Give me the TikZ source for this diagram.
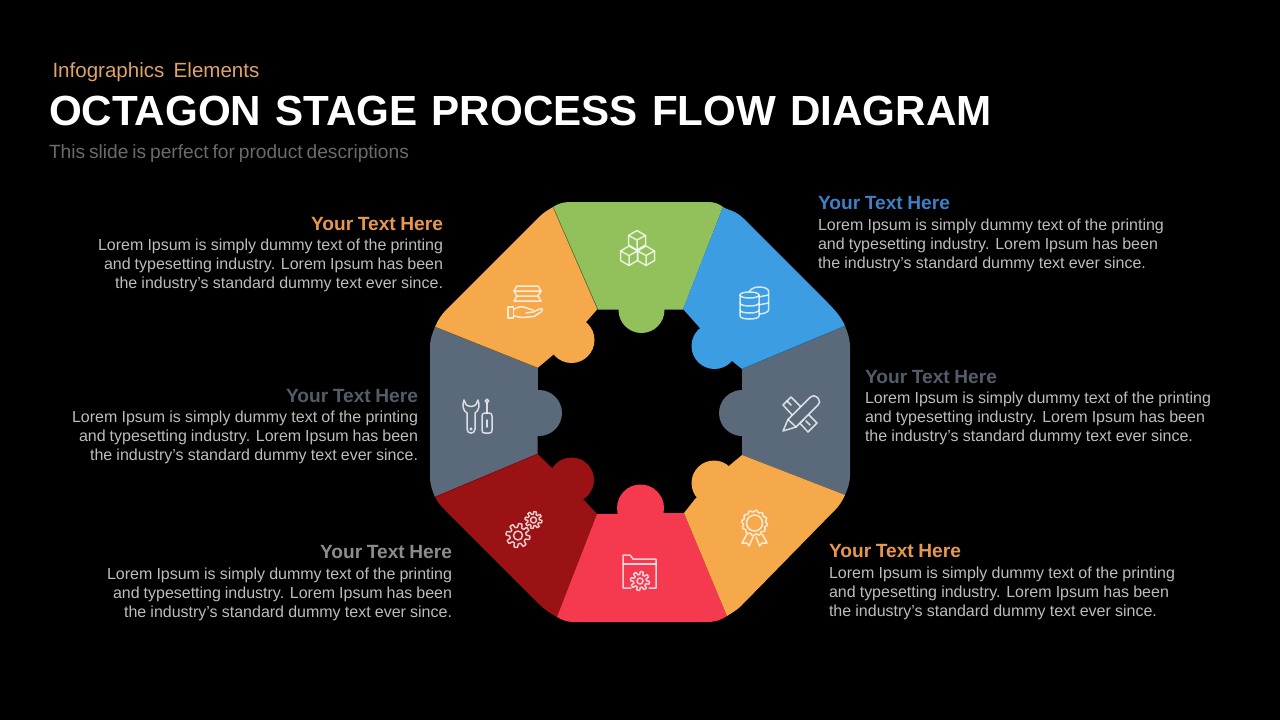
\documentclass[tikz,border=0pt]{standalone}
\usepackage{fontspec}
\setmainfont{Liberation Sans}
\definecolor{cgreen}{HTML}{92C05A}
\definecolor{corange}{HTML}{F5A94B}
\definecolor{cblue}{HTML}{3D9DE3}
\definecolor{cgrey}{HTML}{5B6A7B}
\definecolor{cmaroon}{HTML}{9A1214}
\definecolor{cred}{HTML}{F53A50}
\definecolor{bodygrey}{HTML}{BDBDBD}
\definecolor{hdorange}{HTML}{E8974F}
\definecolor{hdkick}{HTML}{DDA468}
\definecolor{hdblue}{HTML}{3F7FC4}
\definecolor{hdgrey}{HTML}{535D69}
\definecolor{hdlight}{HTML}{8C8C8C}
\newdimen\pxunit
\pxunit=0.56905pt
\newcommand{\bodyfont}{\fontsize{9.1pt}{11pt}\selectfont}
\newcommand{\headfont}{\fontsize{10.9pt}{13pt}\selectfont\bfseries}
% name, x, y, anchor, width, text
\newcommand{\bodyline}[6]{\node[txt,text=bodygrey,anchor=base #4] (#1) at (#2,#3) {\bodyfont\makebox[#5\pxunit][s]{#6}};}
% name, x, y, anchor, colour
\newcommand{\headline}[5]{\node[txt,text=#5,anchor=base #4] (#1) at (#2,#3) {\headfont\makebox[132\pxunit][s]{Your Text Here}};}
% gear: x, y, outer radius, inner-hole radius, fill colour, teeth
\newcommand{\gearicon}[6]{%
  \draw[iconline,fill=#5] plot[samples=145,domain=0:360,variable=\t]
     ({#1+(#3*0.84+#3*0.16*max(-1,min(1,2.4*sin(#6*\t))))*cos(\t)},{#2+(#3*0.84+#3*0.16*max(-1,min(1,2.4*sin(#6*\t))))*sin(\t)}) -- cycle;
  \draw[iconline] (#1,#2) circle[radius=#4];}
\newcommand{\cubeicon}[2]{%
  \begin{scope}[shift={(#1,#2)}]
    \draw[iconline] (0,0) -- (8.5,5) -- (8.5,14.5) -- (0,19.5) -- (-8.5,14.5) -- (-8.5,5) -- cycle;
    \draw[iconline] (-8.5,5) -- (0,9.5) -- (8.5,5) (0,9.5) -- (0,19.5);
  \end{scope}}
\tikzset{
  txt/.style={inner sep=0pt,outer sep=0pt},
  iconline/.style={draw=white,draw opacity=.78,line width=.85pt,line join=round,line cap=round},
  seam/.style={line width=.35pt}
}
\begin{document}
\begin{tikzpicture}[x=0.02cm,y=-0.02cm]
\fill[black] (0,0) rectangle (1280,720);
\useasboundingbox (0,0) rectangle (1280,720);

% ---- puzzle pieces
\fill[cgreen] (553,207) .. controls (558,203.8) and (563,202) .. (570,202) -- (708,202) .. controls (715,202) and (719,204) .. (723,207) -- (683,309.5) -- (598,309.5) -- cycle;
\fill[cgreen] (641.5,310) circle[radius=23];
\fill[cblue] (723,207) .. controls (727,210) and (735,210) .. (743,218) -- (827,302) .. controls (835,310) and (842,318) .. (845,326) -- (742,369) -- (732,361) -- (699,327) -- (683,309) -- cycle;
\fill[cblue] (714.5,346) circle[radius=23];
\fill[corange] (553,207) .. controls (549,209.6) and (545,211) .. (537,219) -- (447,309) .. controls (441,315) and (438,320) .. (435,327) -- (537.5,368) -- (553,355) -- (587,321) -- (597.5,309) -- cycle;
\fill[corange] (571.5,340) circle[radius=23];
\fill[cgrey] (435,327) .. controls (432.5,333) and (430,339) .. (430,347) -- (430,477) .. controls (430,485) and (432.5,491) .. (435,497) -- (537.5,454) -- (538,368) -- cycle;
\fill[cgrey] (539,413) circle[radius=23];
\fill[cgrey] (845,326) .. controls (847.5,332) and (850,339) .. (850,347) -- (850,475) .. controls (850,483) and (847.5,489) .. (845,495) -- (742,455) -- (742,369) -- cycle;
\fill[cgrey] (742,413) circle[radius=23];
\fill[cmaroon] (435,497) .. controls (437.5,502) and (441,506) .. (445,510) -- (540,605) .. controls (545,610) and (551,613.5) .. (557,617) -- (597,514) -- (583,499) -- (551,467) -- (537.5,454) -- cycle;
\fill[cmaroon] (571.5,480) circle[radius=22.5];
\fill[cred] (557,617) .. controls (562,620) and (567,622) .. (573,622) -- (708,622) .. controls (715,622) and (721,620) .. (727,616) -- (684,513) -- (597,514) -- cycle;
\fill[cred] (640.5,508) circle[radius=23.5];
\fill[corange] (727,616) .. controls (733,612) and (737,610) .. (741,606) -- (835,510) .. controls (839,506) and (842.5,501) .. (845,495) -- (742,455) -- (730,465) -- (695,499) -- (684,513) -- cycle;
\fill[corange] (714,483) circle[radius=22.5];

% ---- seams
\draw[seam,draw=cgreen!60!black] (553,207) -- (597.5,309);
\draw[seam,draw=cblue!70!black] (845,326) -- (742,369);
\draw[seam,draw=corange!55!black] (435,327) -- (537.5,368);
\draw[seam,draw=cmaroon!80!black] (435,497) -- (537.5,454);

% ---- icon: cubes
\cubeicon{637}{230.5}
\cubeicon{629}{246}
\cubeicon{646}{246}

% ---- icon: stack on hand
\draw[iconline] (517,286) -- (538,286) -- (541,291) -- (514,291) -- cycle;
\draw[iconline] (514,291) -- (517,296) -- (538,296) -- (541,291);
\draw[iconline] (517,296) -- (514,301) -- (541,301) -- (538,296);
\draw[iconline] (508,307) rectangle (513.5,318);
\draw[iconline] (513.5,309.5) .. controls (519,306) and (523,306) .. (528,308.5) -- (533,310) (526,313) -- (533,312) -- (541,308.5) .. controls (543,308) and (543,311) .. (541,312) -- (534,316.5) -- (522,317.5) -- (513.5,316);

% ---- icon: databases
\draw[iconline] (749,292) .. controls (751,288) and (756,287) .. (759,287) .. controls (765,287) and (768.5,289) .. (768.5,291) -- (768.5,310) .. controls (768.5,312) and (764,314) .. (758.5,314);
\draw[iconline] (758.5,297) -- (768.5,295) (758.5,305) -- (768.5,303);
\draw[iconline,fill=cblue] (740,295) .. controls (740,291) and (759,291) .. (759,295) -- (759,316) .. controls (759,320) and (740,320) .. (740,316) -- cycle;
\draw[iconline] (740,295) .. controls (740,299) and (759,299) .. (759,295);
\draw[iconline] (740,303) .. controls (740,307) and (759,307) .. (759,303);
\draw[iconline] (740,310) .. controls (740,314) and (759,314) .. (759,310);

% ---- icon: ruler and pencil
\draw[iconline] (783,405) -- (791,397) -- (817,423) -- (808,432) -- cycle;
\draw[iconline] (787,401) -- (791,405) (804,419) -- (800,423) (810,425) -- (806,421);
\draw[iconline,fill=cgrey] (783,431) -- (788,419.5) -- (810,397.5) .. controls (813,395) and (816,395.5) .. (817.5,397.5) -- (818.5,399) .. controls (820,401) and (820,403) .. (818,405) -- (796,427) -- cycle;
\draw[iconline] (788,419.5) -- (796,427);

% ---- icon: wrench and screwdriver
\draw[iconline] (464,400) .. controls (462,405) and (463,411) .. (467,413) -- (467,429) .. controls (467,434.5) and (475,434.5) .. (475,429) -- (475,413) .. controls (479,411) and (480,405) .. (478,400) -- (476,404.5) .. controls (474,407) and (468,407) .. (466,404.5) -- cycle;
\draw[iconline] (471,429) circle[radius=.8];
\draw[iconline] (487,401) circle[radius=1.8];
\draw[iconline] (487,403) -- (487,413);
\draw[iconline] (482,416) .. controls (482,414) and (483,413) .. (485,413) -- (489,413) .. controls (491,413) and (492,414) .. (492,416) -- (492,430) .. controls (492,432.5) and (491,433) .. (489,433) -- (485,433) .. controls (483,433) and (482,432.5) .. (482,430) -- cycle;
\draw[iconline] (487,420) -- (487,427);

% ---- icon: two gears
\gearicon{518}{535.5}{12}{4.5}{cmaroon}{8}
\gearicon{533.5}{520}{8.5}{3}{cmaroon}{8}

% ---- icon: folder with gear
\draw[iconline] (631,588) -- (623,588) -- (623,555) -- (630,555) -- (633,559) -- (656,559) -- (656,588) -- (649,588);
\draw[iconline] (623,564) -- (656,564);
\gearicon{640}{581}{9.5}{3}{cred}{8}

% ---- icon: badge
\draw[iconline] (747,534) -- (742,543) -- (747,543) -- (749,546) -- (753,537);
\draw[iconline] (762,534) -- (767,543) -- (762,543) -- (759.5,546) -- (756,537);
\draw[iconline,fill=corange] plot[samples=145,domain=0:360,variable=\t] ({754.5+(12+.9*sin(12*\t))*cos(\t)},{523+(12+.9*sin(12*\t))*sin(\t)}) -- cycle;
\draw[iconline] (754.5,523) circle[radius=8];

% ---- titles
\node[txt,text=hdkick,anchor=base west] (kicker) at (52.5,77.5) {\fontsize{11.7pt}{14pt}\selectfont\makebox[207\pxunit][s]{Infographics Elements}};
\node[txt,text=white,anchor=base west] (title) at (49,125) {\fontsize{24pt}{28pt}\selectfont\bfseries\makebox[943\pxunit][s]{OCTAGON STAGE PROCESS FLOW DIAGRAM}};
\node[txt,text=black!58,anchor=base west] (subtitle) at (49,158) {\fontsize{10.9pt}{13pt}\selectfont\spaceskip=.2em plus 1em minus .1em\makebox[360\pxunit][s]{This slide is perfect for product descriptions}};

% ---- text blocks
\headline{h1}{443}{230.5}{east}{hdorange}
\bodyline{l1a}{443}{250}{east}{345}{Lorem Ipsum is simply dummy text of the printing}
\bodyline{l1b}{443}{269}{east}{339}{and typesetting industry. Lorem Ipsum has been}
\bodyline{l1c}{443}{288}{east}{328}{the industry's standard dummy text ever since.}

\headline{h2}{818}{209}{west}{hdblue}
\bodyline{l2a}{818}{230}{west}{346}{Lorem Ipsum is simply dummy text of the printing}
\bodyline{l2b}{818}{249}{west}{340}{and typesetting industry. Lorem Ipsum has been}
\bodyline{l2c}{818}{268}{west}{328}{the industry's standard dummy text ever since.}

\headline{h3}{418}{402}{east}{hdgrey}
\bodyline{l3a}{418}{422}{east}{346}{Lorem Ipsum is simply dummy text of the printing}
\bodyline{l3b}{418}{441}{east}{339}{and typesetting industry. Lorem Ipsum has been}
\bodyline{l3c}{418}{460}{east}{328}{the industry's standard dummy text ever since.}

\headline{h4}{865}{383}{west}{hdgrey}
\bodyline{l4a}{865}{403}{west}{346}{Lorem Ipsum is simply dummy text of the printing}
\bodyline{l4b}{865}{422}{west}{340}{and typesetting industry. Lorem Ipsum has been}
\bodyline{l4c}{865}{441}{west}{328}{the industry's standard dummy text ever since.}

\headline{h5}{452}{558.5}{east}{hdlight}
\bodyline{l5a}{452}{579}{east}{345}{Lorem Ipsum is simply dummy text of the printing}
\bodyline{l5b}{452}{598}{east}{339}{and typesetting industry. Lorem Ipsum has been}
\bodyline{l5c}{452}{617}{east}{328}{the industry's standard dummy text ever since.}

\headline{h6}{829}{557.5}{west}{hdorange}
\bodyline{l6a}{829}{578}{west}{346}{Lorem Ipsum is simply dummy text of the printing}
\bodyline{l6b}{829}{597}{west}{340}{and typesetting industry. Lorem Ipsum has been}
\bodyline{l6c}{829}{616}{west}{328}{the industry's standard dummy text ever since.}
\end{tikzpicture}
\end{document}
